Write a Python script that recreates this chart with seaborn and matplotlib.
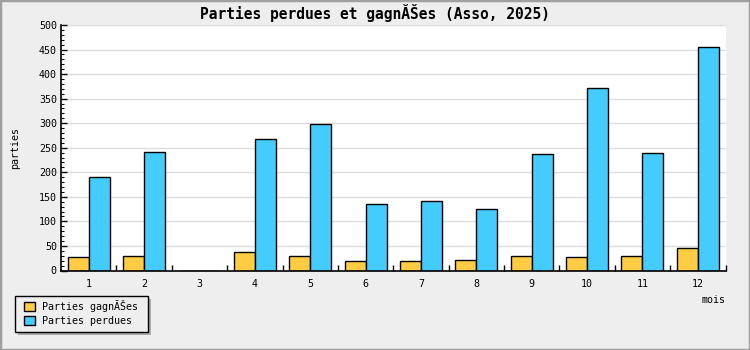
import matplotlib
matplotlib.use("Agg")
import matplotlib.pyplot as plt
from matplotlib.patches import Rectangle, Patch
from matplotlib.ticker import MultipleLocator, FixedLocator
import seaborn as sns
import pandas as pd

months = ["1", "2", "3", "4", "5", "6", "7", "8", "9", "10", "11", "12"]
won = [27, 29, 0, 37, 29, 19, 20, 22, 30, 28, 30, 46]
lost = [191, 242, 0, 267, 299, 136, 142, 126, 237, 372, 240, 456]
series_names = ["Parties gagnĂŠes", "Parties perdues"]
series_colors = ["#FFCC44", "#44CCFF"]
title = "Parties perdues et gagnĂŠes (Asso, 2025)"
y_label = "parties"
x_label = "mois"

df = pd.DataFrame({
    "mois": months * 2,
    "valeur": won + lost,
    "serie": [series_names[0]] * len(months) + [series_names[1]] * len(months),
})

sns.set_theme(style="white")
plt.rcParams["font.family"] = ["DejaVu Sans Mono"]
plt.rcParams["text.color"] = "black"
plt.rcParams["xtick.color"] = "black"
plt.rcParams["ytick.color"] = "black"
plt.rcParams["axes.labelcolor"] = "black"

W, H = 750, 350
fig = plt.figure(figsize=(W / 100, H / 100), dpi=100, facecolor="#EEEEEE")
ax = fig.add_axes([61 / W, 1 - 270.5 / H, (725.5 - 61) / W, (270.5 - 25) / H])
ax.set_facecolor("white")

sns.barplot(data=df, x="mois", y="valeur", hue="serie", order=months,
            hue_order=series_names, palette=series_colors, width=0.76,
            edgecolor="black", linewidth=1.0, saturation=1, ax=ax, legend=False)

ax.set_xlim(-0.5, len(months) - 0.5)
ax.set_ylim(0, 500)
ax.yaxis.set_major_locator(MultipleLocator(50))
ax.yaxis.set_minor_locator(MultipleLocator(10))
ax.xaxis.set_minor_locator(FixedLocator([i + 0.5 for i in range(len(months))]))
ax.grid(axis="y", which="major", color="#DDDDDD", linewidth=1.0)
ax.set_axisbelow(True)
for s in ["top", "right"]:
    ax.spines[s].set_visible(False)
for s in ["left", "bottom"]:
    ax.spines[s].set_color("black")
    ax.spines[s].set_linewidth(1.2)
ax.tick_params(axis="y", which="major", direction="in", length=4, width=1,
               color="black", labelcolor="black", labelsize=7.2, pad=3, left=True)
ax.tick_params(axis="y", which="minor", direction="in", length=2.5, width=0.8,
               color="black", left=True)
ax.tick_params(axis="x", which="major", length=0, labelsize=7.2, pad=6,
               labelcolor="black")
ax.tick_params(axis="x", which="minor", direction="in", length=4, width=1,
               color="black", bottom=True)
ax.set_xlabel("")
ax.set_ylabel("")

fig.text(0.5, 1 - 12.5 / H, title, ha="center", va="center",
         fontsize=10.5, fontweight="bold", color="black")
fig.text(15 / W, 1 - 148 / H, y_label, rotation=90, ha="center",
         va="center", fontsize=7.2, color="black")
fig.text(725 / W, 1 - 300 / H, x_label, ha="right", va="center",
         fontsize=7.2, color="black")

# legend box with shadow (pixel coordinates)
fig.patches.append(Rectangle((18, H - 335), 133, 36, transform=None,
                             facecolor="#AAAAAA", edgecolor="none", zorder=1))
fig.patches.append(Rectangle((15, H - 332), 133, 36, transform=None,
                             facecolor="#EEEEEE", edgecolor="black",
                             linewidth=1.0, zorder=2))

handles = [Patch(facecolor=c, edgecolor="black", linewidth=1.0)
           for c in series_colors]
leg = fig.legend(handles, series_names, loc="upper left",
                 bbox_to_anchor=(24.5 / W, 1 - 299.5 / H), frameon=False,
                 fontsize=7.2, handlelength=1.0, handleheight=1.0,
                 handletextpad=0.8, borderpad=0, labelspacing=0.45,
                 borderaxespad=0, labelcolor="black")
leg.set_zorder(3)

border = Rectangle((0, 0), 1, 1, transform=fig.transFigure, fill=False,
                   edgecolor="#A0A0A0", linewidth=2.5)
fig.patches.append(border)

fig.savefig("out.png", dpi=100, facecolor=fig.get_facecolor())
